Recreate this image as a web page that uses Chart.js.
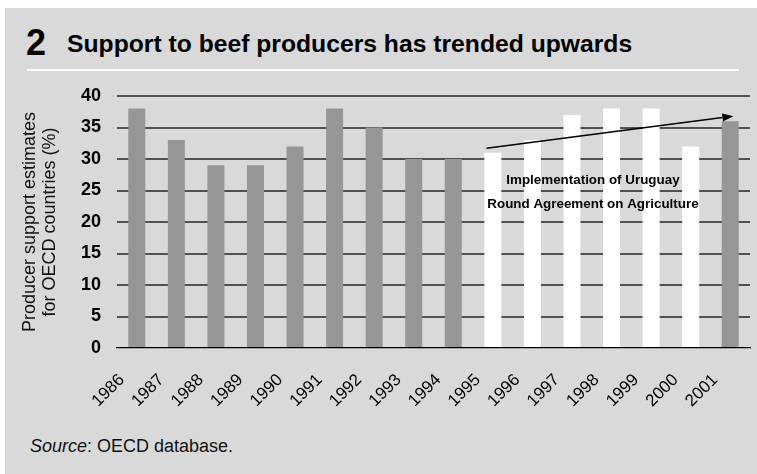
<!DOCTYPE html>
<html>
<head>
<meta charset="utf-8">
<script src="https://cdn.jsdelivr.net/npm/chart.js@4/dist/chart.umd.min.js"></script>
<style>
  html, body { margin: 0; padding: 0; background: #ffffff; }
  body { width: 757px; height: 474px; position: relative; overflow: hidden; font-family: "Liberation Sans", Arial, sans-serif; }
  #panel { position: absolute; left: 5px; top: 8px; width: 752px; height: 466px; background: #d9d9d9; }
  #num { position: absolute; left: 26px; top: 22px; font-size: 36px; font-weight: bold; color: #000; line-height: 42px; }
  #title { position: absolute; left: 67px; top: 29px; font-size: 24.7px; font-weight: bold; color: #000; line-height: 30px; white-space: nowrap; }
  #rule { position: absolute; left: 27px; top: 69px; width: 712px; height: 2px; background: #ffffff; }
  #source { position: absolute; left: 30px; top: 435px; font-size: 18px; color: #111; line-height: 22px; white-space: nowrap; }
  #wrap { position: absolute; left: 0; top: 0; width: 757px; height: 474px; }
</style>
</head>
<body>
<div id="panel"></div>
<div id="num">2</div>
<div id="title">Support to beef producers has trended upwards</div>
<div id="rule"></div>
<div id="source"><i>Source</i>: OECD database.</div>
<div id="wrap"><canvas id="c" width="757" height="474"></canvas></div>
<script>
const years = ['1986','1987','1988','1989','1990','1991','1992','1993','1994','1995','1996','1997','1998','1999','2000','2001'];
const pse = [38, 33, 29, 29, 32, 38, 35, 30, 30, 31, 33, 37, 38, 38, 32, 36];
const uruguayRound = ['1995','1996','1997','1998','1999','2000'];
const yTicks = [0, 5, 10, 15, 20, 25, 30, 35, 40];
const yTitle = ['Producer support estimates', 'for OECD countries (%)'];
const noteLines = ['Implementation of Uruguay', 'Round Agreement on Agriculture'];
const notePos = { x: 11.53, y: [26.0, 22.2] };
const arrowFrom = { x: 8.84, y: 31.7 };
const arrowTo = { x: 15.08, y: 36.8 };

const FONT = '"Liberation Sans", Arial, sans-serif';
const barColors = years.map(y => uruguayRound.includes(y) ? '#ffffff' : '#969696');

const notePlugin = {
  id: 'note',
  afterDatasetsDraw(chart) {
    const { ctx, scales: { x, y } } = chart;
    ctx.save();
    const x1 = x.getPixelForValue(arrowFrom.x), y1 = y.getPixelForValue(arrowFrom.y);
    const x2 = x.getPixelForValue(arrowTo.x), y2 = y.getPixelForValue(arrowTo.y);
    const ang = Math.atan2(y2 - y1, x2 - x1);
    const headL = 11, headW = 4;
    const bx = x2 - headL * Math.cos(ang), by = y2 - headL * Math.sin(ang);
    ctx.strokeStyle = '#000';
    ctx.lineWidth = 1.5;
    ctx.beginPath();
    ctx.moveTo(x1, y1);
    ctx.lineTo(bx, by);
    ctx.stroke();
    ctx.fillStyle = '#000';
    ctx.beginPath();
    ctx.moveTo(x2, y2);
    ctx.lineTo(bx + headW * Math.sin(ang), by - headW * Math.cos(ang));
    ctx.lineTo(bx - headW * Math.sin(ang), by + headW * Math.cos(ang));
    ctx.closePath();
    ctx.fill();
    ctx.font = 'bold 13.4px ' + FONT;
    ctx.textAlign = 'center';
    ctx.textBaseline = 'alphabetic';
    ctx.fillStyle = '#000';
    noteLines.forEach((t, i) => {
      ctx.fillText(t, x.getPixelForValue(notePos.x), y.getPixelForValue(notePos.y[i]));
    });
    ctx.restore();
  }
};

new Chart(document.getElementById('c'), {
  type: 'bar',
  data: {
    labels: years,
    datasets: [{
      data: pse,
      backgroundColor: barColors,
      borderWidth: 0,
      categoryPercentage: 1,
      barPercentage: 0.43
    }]
  },
  options: {
    responsive: false,
    animation: false,
    events: [],
    layout: { padding: { left: 0, right: 7, top: 96, bottom: 0 } },
    plugins: { legend: { display: false }, tooltip: { enabled: false } },
    scales: {
      x: {
        grid: { display: false, drawTicks: false },
        border: { display: true, color: '#000', width: 1.2 },
        ticks: {
          autoSkip: false,
          maxRotation: 45, minRotation: 45,
          padding: 22,
          labelOffset: -15,
          color: '#000',
          font: { family: FONT, size: 17 }
        },
        afterFit(s) { s.height = 126; s.paddingLeft = 0; s.paddingRight = 0; }
      },
      y: {
        min: 0, max: 40,
        afterBuildTicks(s) { s.ticks = yTicks.map(v => ({ value: v })); },
        grid: {
          drawTicks: false,
          color: ctx => ctx.tick && ctx.tick.value === 0 ? 'rgba(0,0,0,0)' : '#505050',
          lineWidth: 2
        },
        border: { display: false },
        ticks: {
          padding: 16,
          color: '#000',
          font: { family: FONT, size: 18, weight: 'bold' }
        },
        title: {
          display: true,
          text: yTitle,
          color: '#111',
          padding: { top: 20, bottom: 0 },
          font: { family: FONT, size: 18, lineHeight: 1.1 }
        },
        afterFit(s) { s.width = 117; }
      }
    }
  },
  plugins: [notePlugin]
});
</script>
</body>
</html>
